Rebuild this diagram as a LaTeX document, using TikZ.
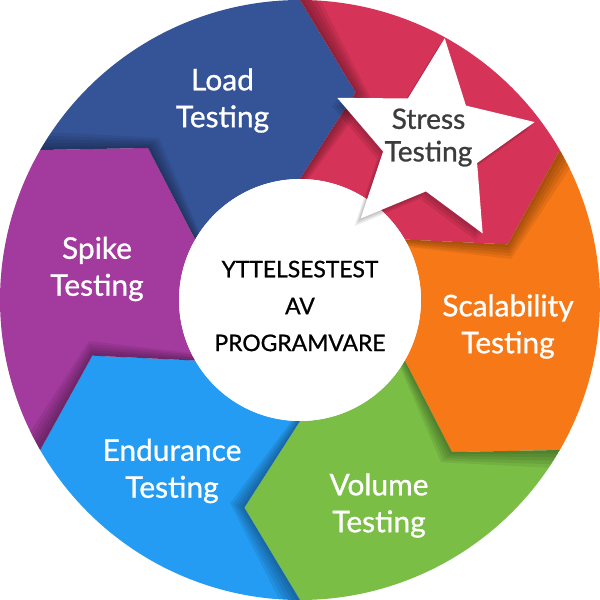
\documentclass[tikz,border=0pt]{standalone}
\usepackage{fontspec}
\setmainfont{Lato}
\newfontfamily\labelfont{Lato}[FakeBold=0.9]
\usetikzlibrary{shapes.geometric}

\definecolor{loadblue}{HTML}{355397}
\definecolor{stressred}{HTML}{D53357}
\definecolor{scalorange}{HTML}{F67816}
\definecolor{volgreen}{HTML}{7ABE46}
\definecolor{endblue}{HTML}{259CF3}
\definecolor{spikepurple}{HTML}{A33A9E}
\definecolor{stressgray}{HTML}{3C3C3C}

% one ring piece, #1 = angle of its counter clockwise edge
\newcommand{\ringseg}[1]{({#1}:6) arc[start angle={#1}, end angle={#1-60}, radius=6] -- ({#1-75}:4.3) -- ({#1-60}:2.42) arc[start angle={#1-60}, end angle={#1}, radius=2.42] -- ({#1-15}:4.3) -- cycle}

\begin{document}
\begin{tikzpicture}[seg label/.style={text=white,align=center,font=\labelfont\fontsize{17}{21}\selectfont},hub label/.style={text=black,align=center,font=\labelfont\fontsize{13}{21}\selectfont},star label/.style={text=stressgray,align=center,font=\labelfont\fontsize{16}{18.5}\selectfont},star box/.style={star,star points=5,star point ratio=2.1,shape border rotate=-7,minimum size=4.18cm,inner sep=0pt}]
                \useasboundingbox (-6,-6) rectangle (6,6);
                \fill[white] (-6,-6) rectangle (6,6);

                % ring
                \foreach \a/\c in {150/loadblue,90/stressred,30/scalorange,-30/volgreen,-90/endblue,-150/spikepurple}
                    \fill[\c] \ringseg{\a};

                % soft shade of each arrow tip on the next piece
                \foreach \a in {150,90,30,-30,-90,-150}{
                    \begin{scope}
                        \clip \ringseg{\a-60};
                        \foreach \k in {1,...,5}
                            \fill[black,opacity=.07] \ringseg{\a-\k*0.8};
                    \end{scope}
                }

                \fill[white] (0,0) circle (2.42);

                % star
                \foreach \s in {1,2,3}
                    \node[star box,fill=black,opacity=.08] (shade\s) at (2.64-0.04*\s,3.16-0.05*\s) {};
                \node[star box,fill=white] (star) at (2.64,3.16) {};

                \node[hub label] (hub) at (0,-0.12) {YTTELSESTEST\\AV\\PROGRAMVARE};
                \node[star label] (stress) at (2.57,3.25) {Stress\\Testing};
                \node[seg label] (load) at (-1.55,3.99) {Load\\Testing};
                \node[seg label] (spike) at (-4.06,0.62) {Spike\\Testing};
                \node[seg label] (scal) at (4.16,-0.53) {Scalability\\Testing};
                \node[seg label] (vol) at (1.58,-4.11) {Volume\\Testing};
                \node[seg label] (endu) at (-2.56,-3.42) {Endurance\\Testing};
            \end{tikzpicture}
\end{document}
